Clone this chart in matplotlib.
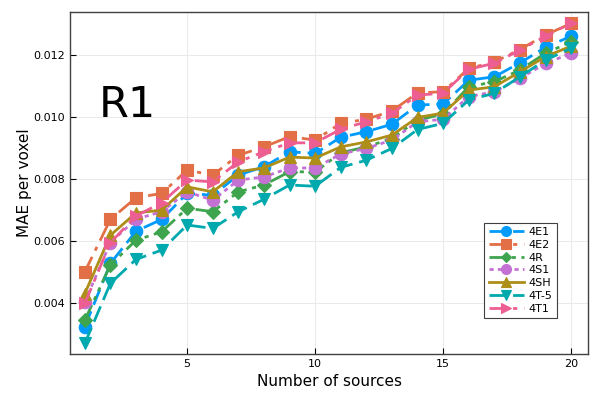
import matplotlib
matplotlib.use("Agg")
import matplotlib.pyplot as plt
from matplotlib.ticker import FormatStrFormatter

n_sources = list(range(1, 21))

mae_4e1 = [0.00324, 0.00528, 0.00632, 0.00670, 0.00754, 0.00748, 0.00813, 0.00840, 0.00888, 0.00883,
           0.00935, 0.00953, 0.00977, 0.01039, 0.01042, 0.01119, 0.01130, 0.01175, 0.01225, 0.01261]
mae_4e2 = [0.00501, 0.00670, 0.00740, 0.00754, 0.00829, 0.00813, 0.00877, 0.00904, 0.00937, 0.00926,
           0.00980, 0.00993, 0.01020, 0.01078, 0.01082, 0.01157, 0.01178, 0.01218, 0.01265, 0.01302]
mae_4r = [0.00345, 0.00523, 0.00603, 0.00630, 0.00706, 0.00695, 0.00759, 0.00781, 0.00824, 0.00823,
          0.00885, 0.00904, 0.00931, 0.00990, 0.01010, 0.01098, 0.01114, 0.01152, 0.01206, 0.01243]
mae_4s1 = [0.00404, 0.00595, 0.00671, 0.00695, 0.00759, 0.00732, 0.00797, 0.00807, 0.00836, 0.00836,
           0.00881, 0.00899, 0.00926, 0.00985, 0.00993, 0.01066, 0.01082, 0.01125, 0.01173, 0.01206]
mae_4sh = [0.00431, 0.00619, 0.00691, 0.00700, 0.00775, 0.00759, 0.00824, 0.00836, 0.00871, 0.00868,
           0.00904, 0.00920, 0.00942, 0.00999, 0.01013, 0.01087, 0.01098, 0.01146, 0.01195, 0.01229]
mae_4t5 = [0.00270, 0.00464, 0.00541, 0.00571, 0.00652, 0.00641, 0.00695, 0.00735, 0.00781, 0.00777,
           0.00838, 0.00861, 0.00899, 0.00960, 0.00980, 0.01055, 0.01077, 0.01130, 0.01184, 0.01222]
mae_4t1 = [0.00399, 0.00595, 0.00681, 0.00724, 0.00797, 0.00791, 0.00856, 0.00888, 0.00917, 0.00917,
           0.00961, 0.00985, 0.01012, 0.01071, 0.01077, 0.01154, 0.01174, 0.01216, 0.01261, 0.01303]

labels = ["4E1", "4E2", "4R", "4S1", "4SH", "4T-5", "4T1"]
series = [mae_4e1, mae_4e2, mae_4r, mae_4s1, mae_4sh, mae_4t5, mae_4t1]

# Julia Plots default palette
colors = ["#009AFA", "#E36F47", "#3EA44E", "#C371D2", "#AC8E18", "#00A9AD", "#ED5E93"]
markers = ["o", "s", "D", "o", "^", "v", ">"]
linestyles = [
    (0, (6, 2.5)),
    (0, (6, 2.5, 1.5, 2.5)),
    (0, (6, 2, 1.5, 2, 1.5, 2)),
    (0, (1.5, 1.5)),
    "-",
    (0, (6, 2.5)),
    (0, (6, 2.5, 1.5, 2.5)),
]
msizes = [9, 9, 7, 9, 9, 9, 9]

fig, ax = plt.subplots(figsize=(6, 4), dpi=100)
fig.subplots_adjust(left=0.117, right=0.98, bottom=0.115, top=0.97)

for vals, lab, c, m, ls, ms in zip(series, labels, colors, markers, linestyles, msizes):
    ax.plot(n_sources, vals, color=c, marker=m, linestyle=ls, linewidth=2,
            markersize=ms, markeredgecolor=c, markeredgewidth=0.8, label=lab)

ax.set_xlim(0.43, 20.66)
ax.set_ylim(0.00236, 0.01339)
ax.set_xticks([5, 10, 15, 20])
ax.set_yticks([0.004, 0.006, 0.008, 0.010, 0.012])
ax.yaxis.set_major_formatter(FormatStrFormatter("%.3f"))
ax.tick_params(direction="in", labelsize=8, length=4, width=0.8)
ax.grid(True, color="#e6e6e6", linewidth=0.6)
ax.set_axisbelow(True)
for sp in ax.spines.values():
    sp.set_color("#404040")
    sp.set_linewidth(1.0)

ax.set_xlabel("Number of sources", fontsize=11)
ax.set_ylabel("MAE per voxel", fontsize=11, labelpad=1)

ax.text(1.55, 0.0100, "R1", fontsize=31, ha="left", va="baseline")

leg = ax.legend(loc="lower right", bbox_to_anchor=(0.94, 0.105), fontsize=8,
                fancybox=False, framealpha=1, edgecolor="#404040", borderaxespad=0,
                handlelength=3.2, labelspacing=0.25, handletextpad=0.4, markerscale=0.8)
leg.get_frame().set_linewidth(0.8)

fig.savefig("out.png", dpi=100)
